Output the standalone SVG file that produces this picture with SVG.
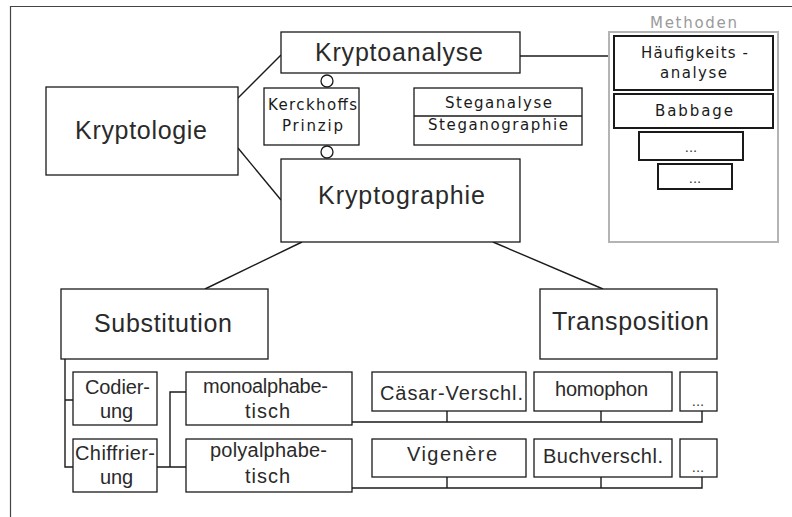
<svg xmlns="http://www.w3.org/2000/svg" width="792" height="517" viewBox="0 0 792 517">
  <style>
    .box { fill: #ffffff; stroke: #1a1a1a; stroke-width: 1.3; }
    .mbox { fill: #ffffff; stroke: #1a1a1a; stroke-width: 2; }
    .group { fill: #ffffff; stroke: #b4b4b4; stroke-width: 2; }
    .wire { fill: none; stroke: #1a1a1a; stroke-width: 1.4; }
    .frame { fill: none; stroke: #444444; stroke-width: 1.2; }
    .big { font-family: "Liberation Sans", Arial, sans-serif; font-size: 25px; fill: #2a2a2a; }
    .mid { font-family: "Liberation Sans", Arial, sans-serif; font-size: 20px; fill: #2a2a2a; }
    .small { font-family: "DejaVu Sans", "Liberation Sans", sans-serif; font-size: 15px; fill: #1a1a1a; }
    .dots { font-family: "DejaVu Sans", "Liberation Sans", sans-serif; font-size: 13px; fill: #333333; text-anchor: middle; }
    .caption { font-family: "DejaVu Sans", "Liberation Sans", sans-serif; font-size: 15px; fill: #9a9a9a; }
  </style>

  <rect width="792" height="517" fill="#ffffff"/>

  <!-- outer frame (top and left edges) -->
  <path class="frame" d="M10.5 517 V6.5 H792"/>

  <!-- connectors -->
  <g id="connectors">
    <line class="wire" x1="238" y1="98" x2="281" y2="55"/>
    <line class="wire" x1="238" y1="148" x2="281" y2="200"/>
    <line class="wire" x1="520" y1="56" x2="609" y2="56"/>
    <line class="wire" x1="302" y1="242" x2="205" y2="289"/>
    <line class="wire" x1="493" y1="242" x2="603" y2="289"/>
    <!-- Substitution branches -->
    <path class="wire" d="M65 359 V467 H73 M65 400 H73"/>
    <path class="wire" d="M157 467 H186 M170 467 V392 H186"/>
    <!-- monoalphabetic row -->
    <path class="wire" d="M352 422 H702 V411 M447 422 V411 M601 422 V411"/>
    <!-- polyalphabetic row -->
    <path class="wire" d="M352 488 H702 V477 M447 488 V477 M601 488 V477"/>
    <!-- Kerckhoffs joints -->
    <circle class="box" cx="327" cy="81" r="6"/>
    <circle class="box" cx="327" cy="152" r="6"/>
  </g>

  <g id="kryptologie">
    <rect class="box" x="46" y="87" width="192" height="88"/>
    <text class="big" x="75" y="139" textLength="132" lengthAdjust="spacing">Kryptologie</text>
  </g>

  <g id="kryptoanalyse">
    <rect class="box" x="281" y="32" width="239" height="41"/>
    <text class="big" x="315" y="61" textLength="168" lengthAdjust="spacing">Kryptoanalyse</text>
  </g>

  <g id="kerckhoffs">
    <rect class="box" x="264" y="88" width="95" height="57"/>
    <text class="small" x="268" y="110" textLength="89" lengthAdjust="spacing">Kerckhoffs</text>
    <text class="small" x="282" y="131" textLength="61" lengthAdjust="spacing">Prinzip</text>
  </g>

  <g id="kryptographie">
    <rect class="box" x="281" y="159" width="239" height="83"/>
    <text class="big" x="318" y="204" textLength="167" lengthAdjust="spacing">Kryptographie</text>
  </g>

  <g id="steganographie">
    <rect class="box" x="414" y="88" width="168" height="57"/>
    <line class="wire" x1="414" y1="116" x2="582" y2="116"/>
    <text class="small" x="445" y="108" textLength="107" lengthAdjust="spacing">Steganalyse</text>
    <text class="small" x="428" y="130" textLength="140" lengthAdjust="spacing">Steganographie</text>
  </g>

  <g id="methoden">
    <rect class="group" x="609" y="32" width="169" height="210"/>
    <text class="caption" x="650" y="28" textLength="87" lengthAdjust="spacing">Methoden</text>
    <rect class="mbox" x="614" y="36" width="159" height="54"/>
    <text class="small" x="641" y="58" textLength="107" lengthAdjust="spacing">Häufigkeits -</text>
    <text class="small" x="660" y="78" textLength="67" lengthAdjust="spacing">analyse</text>
    <rect class="mbox" x="614" y="94" width="159" height="34"/>
    <text class="small" x="655" y="116" textLength="78" lengthAdjust="spacing">Babbage</text>
    <rect class="mbox" x="639" y="132" width="104" height="28"/>
    <text class="dots" x="691" y="152">...</text>
    <rect class="mbox" x="658" y="164" width="74" height="25"/>
    <text class="dots" x="695" y="183">...</text>
  </g>

  <g id="substitution">
    <rect class="box" x="61" y="289" width="207" height="70"/>
    <text class="big" x="94" y="332" textLength="138" lengthAdjust="spacing">Substitution</text>
  </g>

  <g id="transposition">
    <rect class="box" x="540" y="289" width="177" height="70"/>
    <text class="big" x="552" y="330" textLength="157" lengthAdjust="spacing">Transposition</text>
  </g>

  <g id="codierung">
    <rect class="box" x="73" y="372" width="84" height="53"/>
    <text class="mid" x="85" y="394" textLength="65" lengthAdjust="spacing">Codier-</text>
    <text class="mid" x="100" y="418" textLength="33" lengthAdjust="spacing">ung</text>
  </g>

  <g id="chiffrierung">
    <rect class="box" x="73" y="439" width="84" height="53"/>
    <text class="mid" x="75" y="460" textLength="80" lengthAdjust="spacing">Chiffrier-</text>
    <text class="mid" x="100" y="484" textLength="33" lengthAdjust="spacing">ung</text>
  </g>

  <g id="monoalphabetisch">
    <rect class="box" x="186" y="372" width="166" height="53"/>
    <text class="mid" x="203" y="393" textLength="125" lengthAdjust="spacing">monoalphabe-</text>
    <text class="mid" x="245" y="418" textLength="45" lengthAdjust="spacing">tisch</text>
  </g>

  <g id="polyalphabetisch">
    <rect class="box" x="186" y="439" width="166" height="53"/>
    <text class="mid" x="210" y="457" textLength="117" lengthAdjust="spacing">polyalphabe-</text>
    <text class="mid" x="245" y="483" textLength="45" lengthAdjust="spacing">tisch</text>
  </g>

  <g id="caesar">
    <rect class="box" x="372" y="372" width="154" height="39"/>
    <text class="mid" x="380" y="400" textLength="143" lengthAdjust="spacing">Cäsar-Verschl.</text>
  </g>

  <g id="homophon">
    <rect class="box" x="534" y="372" width="138" height="39"/>
    <text class="mid" x="555" y="396" textLength="93" lengthAdjust="spacing">homophon</text>
  </g>

  <g id="mono-more">
    <rect class="box" x="680" y="372" width="37" height="39"/>
    <text class="dots" x="698" y="406">...</text>
  </g>

  <g id="vigenere">
    <rect class="box" x="372" y="439" width="154" height="38"/>
    <text class="mid" x="407" y="461" textLength="90" lengthAdjust="spacing">Vigenère</text>
  </g>

  <g id="buchverschluesselung">
    <rect class="box" x="534" y="439" width="138" height="38"/>
    <text class="mid" x="543" y="463" textLength="120" lengthAdjust="spacing">Buchverschl.</text>
  </g>

  <g id="poly-more">
    <rect class="box" x="680" y="439" width="37" height="38"/>
    <text class="dots" x="698" y="472">...</text>
  </g>
</svg>
